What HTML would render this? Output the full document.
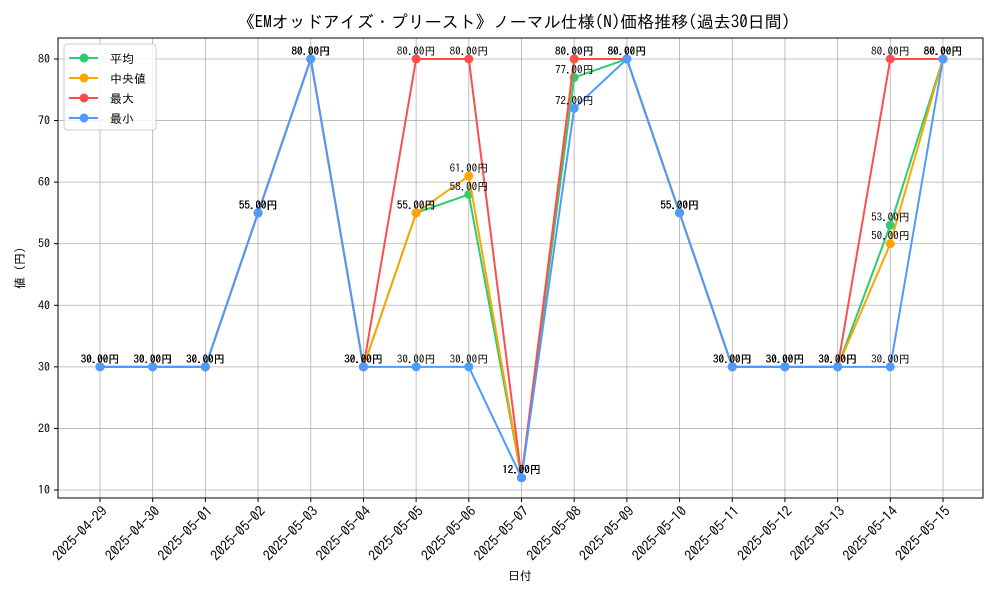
<!DOCTYPE html>
<html><head><meta charset="utf-8"><style>
body{margin:0;background:#fff;}
svg{font-family:"IPAGothic","Noto Sans CJK JP",sans-serif;}
</style></head><body>
<svg width="1000" height="600" xmlns="http://www.w3.org/2000/svg">
<rect width="1000" height="600" fill="#fff"/>
<text x="514" y="28" font-size="17" text-anchor="middle">《EMオッドアイズ・プリースト》ノーマル仕様(N)価格推移(過去30日間)</text>
<g id="grid"></g>
<g id="axes"></g>
<g id="series"></g>
<g id="labels"></g>
<text x="520" y="580" font-size="12" text-anchor="middle">日付</text>
<text transform="translate(24,268) rotate(-90)" font-size="12" text-anchor="middle">値 (円)</text>
<g id="legend"></g>
</svg>
<script>
const dates=["2025-04-29","2025-04-30","2025-05-01","2025-05-02","2025-05-03","2025-05-04","2025-05-05","2025-05-06","2025-05-07","2025-05-08","2025-05-09","2025-05-10","2025-05-11","2025-05-12","2025-05-13","2025-05-14","2025-05-15"];
const avgVals=[30,30,30,55,80,30,55,58,12,77,80,55,30,30,30,53,80];
const medianVals=[30,30,30,55,80,30,55,61,12,80,80,55,30,30,30,50,80];
const maxVals=[30,30,30,55,80,30,80,80,12,80,80,55,30,30,30,80,80];
const minVals=[30,30,30,55,80,30,30,30,12,72,80,55,30,30,30,30,80];
const yTicks=[10,20,30,40,50,60,70,80];
const seriesNames=["平均","中央値","最大","最小"];

const NS="http://www.w3.org/2000/svg";
const L=58,R=983,T=38,B=498;
const x=i=>100+i*(943-100)/(dates.length-1);
const y=v=>490+(v-10)*(59-490)/70;
function mk(tag,attrs,parent,text){const e=document.createElementNS(NS,tag);for(const k in attrs)e.setAttribute(k,attrs[k]);if(text!==undefined)e.textContent=text;parent.appendChild(e);return e;}
const grid=document.getElementById('grid'),axes=document.getElementById('axes');
dates.forEach((d,i)=>{
  const g=mk('line',{x1:x(i),x2:x(i),y1:T,y2:B,stroke:'#b0b0b0','stroke-width':0.8},grid);
  
  
  mk('line',{x1:x(i),x2:x(i),y1:B,y2:B+4,stroke:'#000'},axes);
  const ax=x(i)+8, ay=B+14;
  const t=mk('text',{x:ax,y:ay,'font-size':14,'text-anchor':'end',transform:`rotate(-45 ${ax} ${ay})`},axes,d);
  
  
});
yTicks.forEach(v=>{
  const g=mk('line',{x1:L,x2:R,y1:y(v),y2:y(v),stroke:'#b0b0b0','stroke-width':0.8},grid);
  
  
  mk('line',{x1:L-4,x2:L,y1:y(v),y2:y(v),stroke:'#000'},axes);
  const t=mk('text',{x:L-8,y:y(v)+4,'font-size':12,'text-anchor':'end'},axes,String(v));
  
  
});
mk('rect',{x:L,y:T,width:R-L,height:B-T,fill:'none',stroke:'#000','stroke-width':1},axes);
const colors=['#2ecc71','#ffa500','#ff4d4d','#4d9bff'];
const all=[avgVals,medianVals,maxVals,minVals];
const sg=document.getElementById('series'),lg=document.getElementById('labels');
all.forEach((vals,s)=>{
  const p=mk('polyline',{points:vals.map((v,i)=>x(i)+','+y(v)).join(' '),fill:'none',stroke:colors[s],'stroke-width':2},sg);
  
  
  vals.forEach((v,i)=>{
    const c=mk('circle',{cx:x(i),cy:y(v),r:4.5,fill:colors[s]},sg);
    
    
    const t=mk('text',{x:x(i),y:y(v)-4,'font-size':11,'text-anchor':'middle'},lg,v.toFixed(2)+'円');
    
    
  });
});
const leg=document.getElementById('legend');
mk('rect',{x:64,y:44,width:92,height:86,fill:'#fff','fill-opacity':0.85,stroke:'#ccc',rx:3},leg);
seriesNames.forEach((n,s)=>{
  const yy=58+s*20;
  mk('line',{x1:69,x2:98,y1:yy,y2:yy,stroke:colors[s],'stroke-width':2},leg);
  mk('circle',{cx:84,cy:yy,r:4.5,fill:colors[s]},leg);
  const t=mk('text',{x:110,y:yy+5,'font-size':12},leg,n);
  
  
});
</script>
</body></html>
